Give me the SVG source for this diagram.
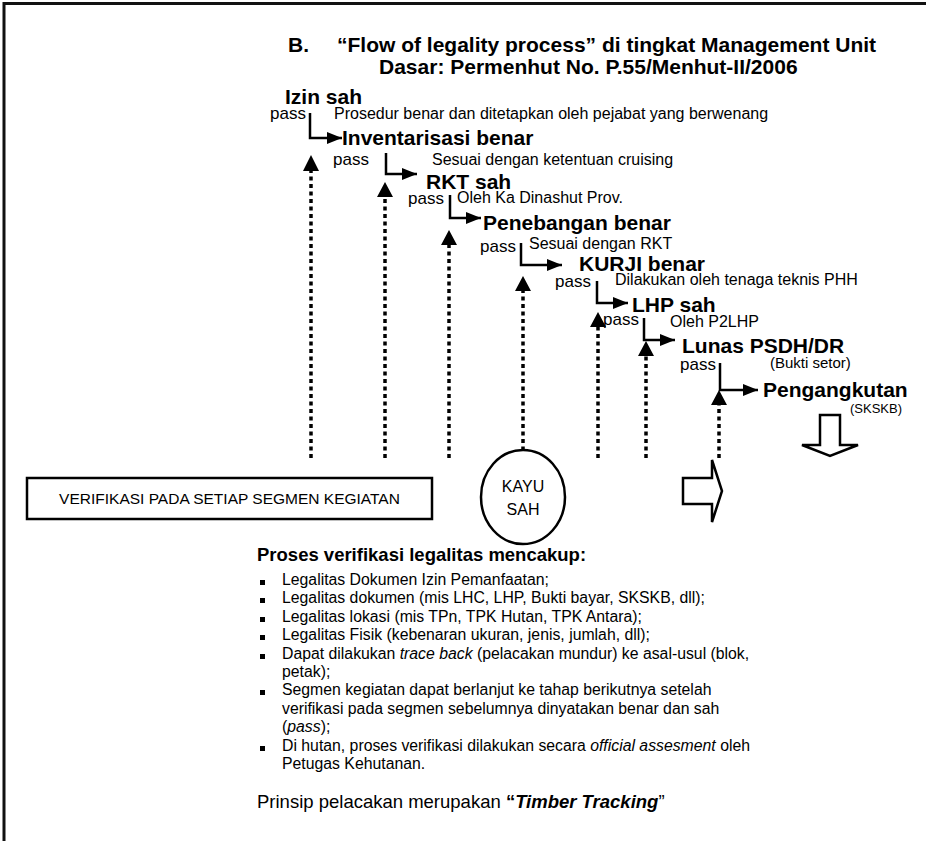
<svg xmlns="http://www.w3.org/2000/svg" width="926" height="841" viewBox="0 0 926 841">
<style>
text{font-family:"Liberation Sans",Arial,sans-serif;fill:#000}
.t{font-size:21px;font-weight:bold}
.lb{font-size:21px;font-weight:bold}
.ps{font-size:17px}
.ds{font-size:16px}
.sm{font-size:15px}
.c{stroke:#000;stroke-width:2.5;fill:none}
.d{stroke:#000;stroke-width:3.5;stroke-dasharray:4 3.5;fill:none}
.blk{fill:#fff;stroke:#000;stroke-width:2.5}
.bl{font-size:15.8px}
.hd{font-size:18.5px;font-weight:bold}
</style>
<defs>
<marker id="ah" markerUnits="userSpaceOnUse" markerWidth="15" markerHeight="12" refX="15" refY="6" orient="auto"><path d="M0,0L15,6L0,12z" fill="#000"/></marker>
<rect id="sq" width="5" height="5" fill="#000"/>
</defs>
<rect width="926" height="841" fill="#fff"/>
<path d="M4,841V3.5H926" stroke="#111" stroke-width="3" fill="none"/>
<g id="title">
<text class="t" x="288" y="52">B.</text>
<text class="t" x="337" y="52">“Flow of legality process” di tingkat Management Unit</text>
<text class="t" x="379" y="74">Dasar: Permenhut No. P.55/Menhut-II/2006</text>
</g>
<g id="connectors">
<path class="c" d="M310,113V138H342" marker-end="url(#ah)"/>
<path class="c" d="M386,153V174H417" marker-end="url(#ah)"/>
<path class="c" d="M450,195V218H481" marker-end="url(#ah)"/>
<path class="c" d="M521,243V265H562" marker-end="url(#ah)"/>
<path class="c" d="M597,281V303H628" marker-end="url(#ah)"/>
<path class="c" d="M644,318V340H675" marker-end="url(#ah)"/>
<path class="c" d="M720,363V390H758" marker-end="url(#ah)"/>
<path class="d" d="M311,458V170"/><path d="M311,155L303,171H319z"/>
<path class="d" d="M385,458V196"/><path d="M385,182L377,197H393z"/>
<path class="d" d="M449,458V245"/><path d="M449,230L441,245H457z"/>
<path class="d" d="M523,458V290"/><path d="M523,276L515,291H531z"/>
<path class="d" d="M598,458V326"/><path d="M598,312L590,327H606z"/>
<path class="d" d="M646,458V355"/><path d="M646,341L638,356H654z"/>
<path class="d" d="M719,458V404"/><path d="M719,390L711,405H727z"/>
</g>
<g id="izin">
<text class="lb" x="285" y="104">Izin sah</text>
<text class="ps" x="270" y="119">pass</text>
<text class="ds" x="334" y="119">Prosedur benar dan ditetapkan oleh pejabat yang berwenang</text>
</g>
<g id="inventarisasi">
<text class="lb" x="342" y="145">Inventarisasi benar</text>
<text class="ps" x="333" y="165">pass</text>
<text class="ds" x="432" y="165">Sesuai dengan ketentuan cruising</text>
</g>
<g id="rkt">
<text class="lb" x="426" y="189">RKT sah</text>
<text class="ps" x="408" y="204">pass</text>
<text class="ds" x="457" y="203">Oleh Ka Dinashut Prov.</text>
</g>
<g id="penebangan">
<text class="lb" x="483" y="230">Penebangan benar</text>
<text class="ps" x="480" y="252">pass</text>
<text class="ds" x="529" y="249">Sesuai dengan RKT</text>
</g>
<g id="kurji">
<text class="lb" x="579" y="271">KURJI benar</text>
<text class="ps" x="555" y="287">pass</text>
<text class="ds" x="615" y="285">Dilakukan oleh tenaga teknis PHH</text>
</g>
<g id="lhp">
<text class="lb" x="632" y="312">LHP sah</text>
<text class="ps" x="603" y="325">pass</text>
<text class="ds" x="670" y="327">Oleh P2LHP</text>
</g>
<g id="lunas">
<text class="lb" x="682" y="353">Lunas PSDH/DR</text>
<text class="ps" x="680" y="370">pass</text>
<text class="sm" x="770" y="368">(Bukti setor)</text>
</g>
<g id="pengangkutan">
<text class="lb" x="763" y="397">Pengangkutan</text>
<text x="850" y="413" style="font-size:13px">(SKSKB)</text>
</g>
<g id="down-arrow">
<path class="blk" d="M820,415H840V445H858L830,456L802,445H820z"/>
</g>
<g id="right-arrow">
<path class="blk" d="M683,478H712V460L722,491L712,522V504H683z"/>
</g>
<g id="verifikasi-box">
<rect class="blk" x="27" y="478" width="405" height="41"/>
<text x="229.5" y="504" text-anchor="middle" style="font-size:15.5px">VERIFIKASI PADA SETIAP SEGMEN KEGIATAN</text>
</g>
<g id="kayu-sah">
<ellipse class="blk" cx="523" cy="497" rx="42" ry="47"/>
<text x="523" y="492" text-anchor="middle" style="font-size:16px">KAYU</text>
<text x="523" y="515" text-anchor="middle" style="font-size:16px">SAH</text>
</g>
<g id="notes">
<text class="hd" x="257" y="561">Proses verifikasi legalitas mencakup:</text>
<use href="#sq" x="260" y="580"/>
<text class="bl" x="282" y="585">Legalitas Dokumen Izin Pemanfaatan;</text>
<use href="#sq" x="260" y="598"/>
<text class="bl" x="282" y="603">Legalitas dokumen (mis LHC, LHP, Bukti bayar, SKSKB, dll);</text>
<use href="#sq" x="260" y="617"/>
<text class="bl" x="282" y="622">Legalitas lokasi (mis TPn, TPK Hutan, TPK Antara);</text>
<use href="#sq" x="260" y="635"/>
<text class="bl" x="282" y="640">Legalitas Fisik (kebenaran ukuran, jenis, jumlah, dll);</text>
<use href="#sq" x="260" y="654"/>
<text class="bl" x="282" y="659">Dapat dilakukan <tspan font-style="italic">trace back</tspan> (pelacakan mundur) ke asal-usul (blok,</text>
<text class="bl" x="282" y="677">petak);</text>
<use href="#sq" x="260" y="690"/>
<text class="bl" x="282" y="695">Segmen kegiatan dapat berlanjut ke tahap berikutnya setelah</text>
<text class="bl" x="282" y="714">verifikasi pada segmen sebelumnya dinyatakan benar dan sah</text>
<text class="bl" x="282" y="732">(<tspan font-style="italic">pass</tspan>);</text>
<use href="#sq" x="260" y="746"/>
<text class="bl" x="282" y="751">Di hutan, proses verifikasi dilakukan secara <tspan font-style="italic">official assesment</tspan> oleh</text>
<text class="bl" x="282" y="769">Petugas Kehutanan.</text>
<text x="257" y="808" style="font-size:18.5px">Prinsip pelacakan merupakan <tspan font-weight="bold">“</tspan><tspan font-weight="bold" font-style="italic">Timber Tracking</tspan>”</text>
</g>
</svg>
